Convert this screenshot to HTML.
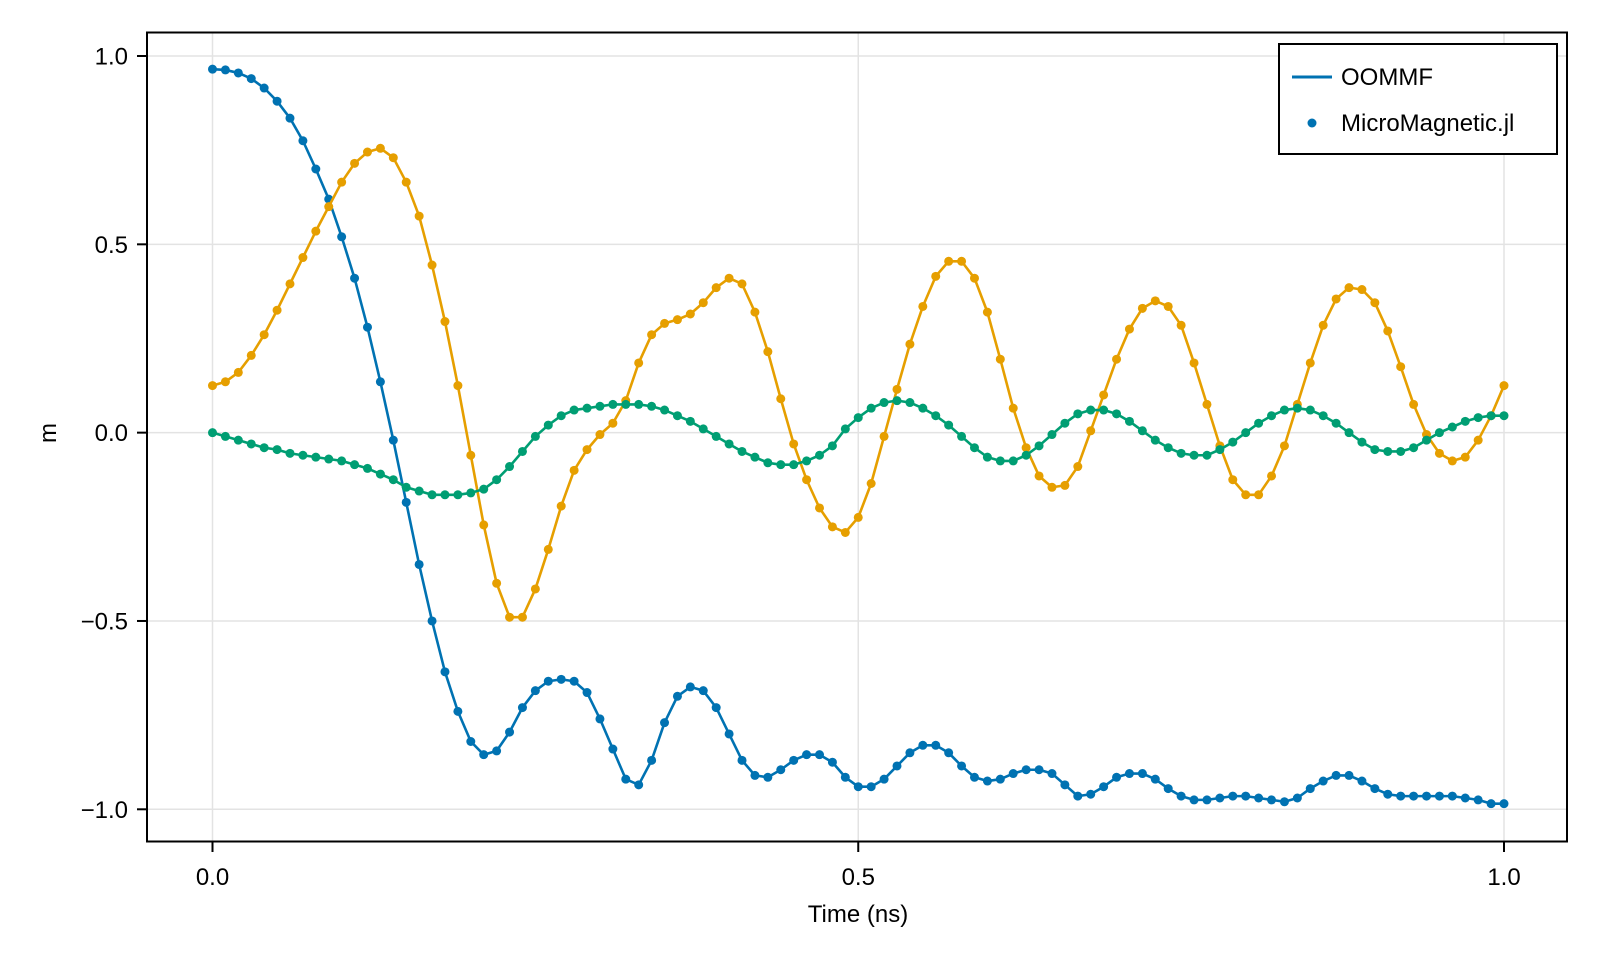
<!DOCTYPE html>
<html><head><meta charset="utf-8"><style>
html,body{margin:0;padding:0;background:#fff;}
svg{display:block;font-family:"Liberation Sans",Arial,sans-serif;}
</style></head><body>
<svg id="chart" width="1600" height="960" viewBox="0 0 1600 960" xmlns="http://www.w3.org/2000/svg">
<rect width="1600" height="960" fill="#fff"/>
<g id="grid"></g>
<g id="series"></g>
<rect x="147" y="32.5" width="1420" height="809" fill="none" stroke="#000" stroke-width="2"/>
<g id="axes"></g>
<text x="858" y="922" font-size="24" text-anchor="middle">Time (ns)</text>
<text x="0" y="0" font-size="24" text-anchor="middle" transform="translate(56,433) rotate(-90)">m</text>
<g>
<rect x="1279" y="44" width="278" height="110" fill="#fff" stroke="#000" stroke-width="2"/>
<line x1="1292" y1="77" x2="1332" y2="77" stroke="#0072b2" stroke-width="3"/>
<text x="1341" y="85" font-size="24">OOMMF</text>
<circle cx="1312" cy="123" r="4.5" fill="#0072b2"/>
<text x="1341" y="131" font-size="24">MicroMagnetic.jl</text>
</g>
</svg>
<script>
const xTicks = [0.0, 0.5, 1.0];
const xTickLabels = ["0.0", "0.5", "1.0"];
const yTicks = [1.0, 0.5, 0.0, -0.5, -1.0];
const yTickLabels = ["1.0", "0.5", "0.0", "\u22120.5", "\u22121.0"];
const mx = [0.965,0.963,0.955,0.94,0.915,0.88,0.835,0.775,0.70,0.62,0.52,0.41,0.28,0.135,-0.02,-0.185,-0.35,-0.50,-0.635,-0.74,-0.82,-0.855,-0.845,-0.795,-0.73,-0.685,-0.66,-0.655,-0.66,-0.69,-0.76,-0.84,-0.92,-0.935,-0.87,-0.77,-0.70,-0.675,-0.685,-0.73,-0.80,-0.87,-0.91,-0.915,-0.895,-0.87,-0.855,-0.855,-0.875,-0.915,-0.94,-0.94,-0.92,-0.885,-0.85,-0.83,-0.83,-0.85,-0.885,-0.915,-0.925,-0.92,-0.905,-0.895,-0.895,-0.905,-0.935,-0.965,-0.96,-0.94,-0.915,-0.905,-0.905,-0.92,-0.945,-0.965,-0.975,-0.975,-0.97,-0.965,-0.965,-0.97,-0.975,-0.98,-0.97,-0.945,-0.925,-0.91,-0.91,-0.925,-0.945,-0.96,-0.965,-0.965,-0.965,-0.965,-0.965,-0.97,-0.975,-0.985,-0.985];
const my = [0.125,0.135,0.16,0.205,0.26,0.325,0.395,0.465,0.535,0.60,0.665,0.715,0.745,0.755,0.73,0.665,0.575,0.445,0.295,0.125,-0.06,-0.245,-0.40,-0.49,-0.49,-0.415,-0.31,-0.195,-0.10,-0.045,-0.005,0.025,0.085,0.185,0.26,0.29,0.30,0.315,0.345,0.385,0.41,0.395,0.32,0.215,0.09,-0.03,-0.125,-0.20,-0.25,-0.265,-0.225,-0.135,-0.01,0.115,0.235,0.335,0.415,0.455,0.455,0.41,0.32,0.195,0.065,-0.04,-0.115,-0.145,-0.14,-0.09,0.005,0.10,0.195,0.275,0.33,0.35,0.335,0.285,0.185,0.075,-0.035,-0.125,-0.165,-0.165,-0.115,-0.035,0.075,0.185,0.285,0.355,0.385,0.38,0.345,0.27,0.175,0.075,-0.005,-0.055,-0.075,-0.065,-0.02,0.045,0.125];
const mz = [0,-0.01,-0.02,-0.03,-0.04,-0.045,-0.055,-0.06,-0.065,-0.07,-0.075,-0.085,-0.095,-0.11,-0.125,-0.145,-0.155,-0.165,-0.165,-0.165,-0.16,-0.15,-0.125,-0.09,-0.05,-0.01,0.02,0.045,0.06,0.065,0.07,0.075,0.075,0.075,0.07,0.06,0.045,0.03,0.01,-0.01,-0.03,-0.05,-0.065,-0.08,-0.085,-0.085,-0.075,-0.06,-0.035,0.01,0.04,0.065,0.08,0.085,0.08,0.065,0.045,0.02,-0.01,-0.04,-0.065,-0.075,-0.075,-0.06,-0.035,-0.005,0.025,0.05,0.06,0.06,0.05,0.03,0.005,-0.02,-0.04,-0.055,-0.06,-0.06,-0.045,-0.025,0,0.025,0.045,0.06,0.065,0.06,0.045,0.025,0,-0.025,-0.045,-0.05,-0.05,-0.04,-0.02,0,0.015,0.03,0.04,0.045,0.045];
const timeStep = 0.01;

const NS = "http://www.w3.org/2000/svg";
const X0 = 212.5, X1 = 1504, Y1 = 56, Ym1 = 809.3;
function xScale(t){ return X0 + (X1 - X0) * t; }
function yScale(v){ return Ym1 + (Y1 - Ym1) * (v + 1) / 2; }
function mk(tag, attrs, parent){
  const e = document.createElementNS(NS, tag);
  for (const k in attrs) e.setAttribute(k, attrs[k]);
  parent.appendChild(e);
  return e;
}
const grid = document.getElementById("grid");
const axes = document.getElementById("axes");
const seriesG = document.getElementById("series");

xTicks.forEach((t, i) => {
  const x = xScale(t);
  const g = mk("line", {x1:x, y1:33, x2:x, y2:841, stroke:"#e3e3e3", "stroke-width":1.5}, grid);
  
  
  const tk = mk("line", {x1:x, y1:842, x2:x, y2:852, stroke:"#000", "stroke-width":2}, axes);
  
  
  const lb = mk("text", {x:x, y:885, "font-size":24, "text-anchor":"middle"}, axes);
  lb.textContent = xTickLabels[i];
  
  
});
yTicks.forEach((v, i) => {
  const y = yScale(v);
  const g = mk("line", {x1:148, y1:y, x2:1566, y2:y, stroke:"#e3e3e3", "stroke-width":1.5}, grid);
  
  
  const tk = mk("line", {x1:137, y1:y, x2:147, y2:y, stroke:"#000", "stroke-width":2}, axes);
  
  
  const lb = mk("text", {x:128, y:y + 8.5, "font-size":24, "text-anchor":"end"}, axes);
  lb.textContent = yTickLabels[i];
  
  
});

const seriesList = [["mx", mx, "#0072b2"], ["my", my, "#e69f00"], ["mz", mz, "#009e73"]];
seriesList.forEach(([name, arr, color]) => {
  const pts = arr.map((v, i) => xScale(i * timeStep).toFixed(2) + "," + yScale(v).toFixed(2)).join(" ");
  const pl = mk("polyline", {points:pts, fill:"none", stroke:color, "stroke-width":2.6, "stroke-linejoin":"round"}, seriesG);
  
  
  arr.forEach((v, i) => {
    const c = mk("circle", {cx:xScale(i * timeStep), cy:yScale(v), r:4.5, fill:color}, seriesG);
    
    
  });
});
</script>
</body></html>
